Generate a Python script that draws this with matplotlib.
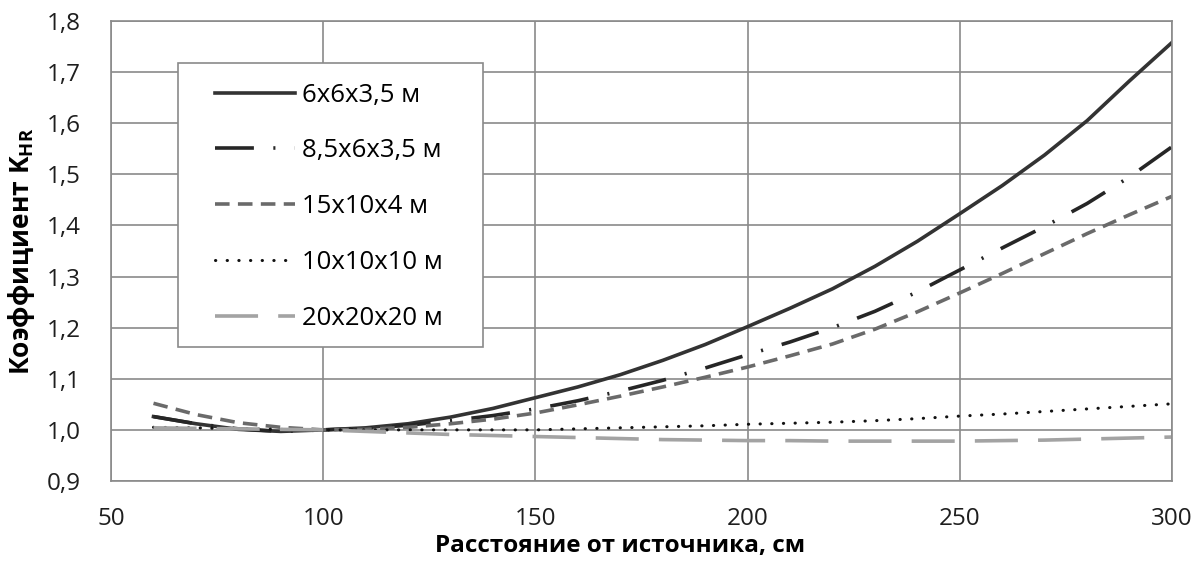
import matplotlib
matplotlib.use("Agg")
import matplotlib.pyplot as plt
from matplotlib.patches import Rectangle
import numpy as np

plt.rcParams['font.family'] = ['Open Sans', 'DejaVu Sans']
plt.rcParams['lines.scale_dashes'] = False

# distance from source, cm
dist = [60, 70, 80, 90, 100, 110, 120, 130, 140, 150, 160, 170, 180,
        190, 200, 210, 220, 230, 240, 250, 260, 270, 280, 290, 300]

# K_HR for each room size
k_6x6 = [1.026, 1.012, 1.001, 0.997, 1.0, 1.004, 1.012, 1.025, 1.042, 1.063, 1.084,
         1.108, 1.136, 1.167, 1.202, 1.238, 1.276, 1.32, 1.369, 1.423, 1.478, 1.538,
         1.605, 1.683, 1.758]
k_85x6 = [1.026, 1.012, 1.002, 0.997, 1.0, 1.003, 1.009, 1.018, 1.028, 1.041, 1.057,
          1.076, 1.097, 1.121, 1.147, 1.172, 1.2, 1.232, 1.27, 1.313, 1.356, 1.398,
          1.443, 1.495, 1.554]
k_15x10 = [1.052, 1.03, 1.014, 1.005, 1.0, 1.001, 1.005, 1.012, 1.021, 1.033, 1.049,
           1.066, 1.084, 1.103, 1.123, 1.145, 1.168, 1.197, 1.231, 1.268, 1.306, 1.345,
           1.384, 1.421, 1.457]
k_10x10 = [1.005, 1.004, 1.002, 1.001, 1.0, 1.0, 1.0, 1.0, 1.0, 1.0, 1.002, 1.004, 1.006,
           1.008, 1.011, 1.013, 1.015, 1.018, 1.022, 1.027, 1.031, 1.036, 1.041, 1.046,
           1.051]
k_20x20 = [1.004, 1.003, 1.002, 1.001, 1.0, 0.997, 0.994, 0.991, 0.989, 0.987, 0.985,
           0.983, 0.981, 0.98, 0.979, 0.979, 0.978, 0.978, 0.978, 0.978, 0.979, 0.98,
           0.982, 0.984, 0.986]

labels = ['6x6x3,5 м', '8,5x6x3,5 м', '15x10x4 м', '10x10x10 м', '20x20x20 м']
yticks = [0.9, 1.0, 1.1, 1.2, 1.3, 1.4, 1.5, 1.6, 1.7, 1.8]
xticks = [50, 100, 150, 200, 250, 300]

fig = plt.figure(figsize=(11.98, 5.65), dpi=100)
ax = fig.add_axes([0.0927, 0.1487, 0.8856, 0.8141])

ax.plot(dist, k_6x6, color='#333333', lw=2.6, label=labels[0])
ax.plot(dist, k_85x6, color='#262626', lw=2.6, linestyle=(0, (28, 14, 1.5, 14)),
        label=labels[1])
ax.plot(dist, k_15x10, color='#6a6a6a', lw=2.6, linestyle=(0, (10.5, 6)),
        label=labels[2])
ax.plot(dist, k_10x10, color='#111111', lw=2.2, linestyle=(0, (0.2, 8.2)),
        dash_capstyle='round', label=labels[3])
ax.plot(dist, k_20x20, color='#a3a3a3', lw=2.6, linestyle=(0, (31, 14.5)),
        label=labels[4])

ax.set_xlim(50, 300)
ax.set_ylim(0.9, 1.8)
ax.set_xticks(xticks)
ax.set_yticks(yticks)
ax.set_yticklabels([('%.1f' % v).replace('.', ',') for v in yticks])
ax.tick_params(length=0, labelsize=17.5, colors='#1e1e1e')
ax.tick_params(axis='y', pad=22)
ax.tick_params(axis='x', pad=19)
ax.grid(True, color='#8a8a8a', lw=1.2)
for s in ax.spines.values():
    s.set_color('#8a8a8a')
    s.set_linewidth(1.2)

ax.set_xlabel('Расстояние от источника, см', fontsize=17.5, fontweight='bold', labelpad=2)
ax.xaxis.label.set_x(0.48)
ax.set_ylabel('Коэффициент K$_{\\mathregular{HR}}$', fontsize=19, fontweight='bold',
              labelpad=7)

# legend box drawn separately so the padding matches the original
box = Rectangle((0.0631, 0.2913), 0.2875, 0.6174, transform=ax.transAxes,
                facecolor='white', edgecolor='#8a8a8a', lw=1.2, zorder=4)
ax.add_patch(box)
leg = ax.legend(loc='upper left', bbox_to_anchor=(0.098, 0.866), fontsize=18.5,
                handlelength=3.1, handletextpad=0.3, labelspacing=1.2,
                borderpad=0, borderaxespad=0, frameon=False)
leg.set_zorder(5)

fig.savefig('out.png', dpi=100)
